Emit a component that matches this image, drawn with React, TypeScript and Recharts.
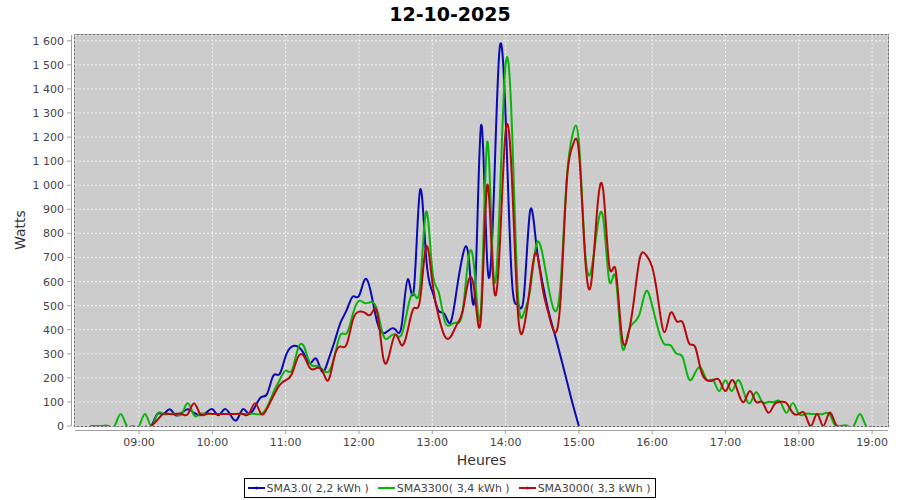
import { LineChart, Line, XAxis, YAxis, CartesianGrid } from 'recharts';

// samples every 5 minutes, start given in minutes after midnight
const STEP = 5;

const greenStart = 500; // 08:20
const greenWatts = [
  0, 0, 0, 0, 0, 50, 0, 0, 0, 50, 0, 50, 50, 50, 50, 50, 95, 45, 50, 50,
  50, 50, 50, 50, 50, 50, 50, 50, 50, 80, 140, 190, 230, 230, 320, 330, 260, 250, 235, 225,
  290, 380, 385, 465, 520, 510, 515, 480, 375, 370, 380, 380, 490, 550, 580, 890, 650, 560, 440, 420,
  430, 480, 710, 620, 500, 1180, 640, 900, 1500, 1270, 560, 470, 560, 750, 720, 580, 480, 590, 1020, 1215,
  1180, 730, 645, 820, 860, 600, 620, 340, 380, 430, 470, 560, 500, 400, 340, 335, 300, 285, 195, 220,
  240, 190, 190, 145, 190, 145, 190, 140, 95, 140, 100, 100, 100, 100, 55, 95, 50, 50, 50, 50,
  50, 50, 0, 0, 0, 0, 50, 0, 0,
];

const redStart = 550; // 09:10
const redWatts = [
  0, 25, 50, 50, 50, 50, 50, 95, 50, 50, 50, 50, 50, 50, 50, 50, 50, 95, 50, 75,
  125, 170, 190, 215, 285, 290, 240, 240, 230, 190, 290, 330, 340, 440, 475, 470, 465, 470, 280, 300,
  380, 335, 400, 490, 525, 745, 600, 460, 375, 370, 420, 480, 610, 540, 460, 1000, 600, 720, 1220, 1050,
  480, 410, 580, 720, 580, 470, 390, 525, 1010, 1165, 1140, 710, 590, 900, 975, 660, 650, 380, 370, 520,
  700, 710, 660, 520, 390, 470, 435, 430, 345, 330, 230, 190, 190, 190, 145, 190, 145, 100, 145, 100,
  100, 55, 90, 100, 95, 55, 50, 50, 0, 50, 0, 55, 10, 0,
];

const blueStart = 545; // 09:05
const blueWatts = [
  0, 0, 50, 50, 70, 45, 55, 70, 55, 45, 55, 70, 45, 70, 45, 25, 70, 50, 80, 120,
  135, 210, 215, 290, 330, 330, 300, 260, 280, 225, 275, 350, 430, 482, 538, 540, 610, 550, 430, 385,
  400, 400, 420, 610, 570, 980, 700, 560, 480, 465, 430, 565, 710, 690, 560, 1250, 680, 900, 1560, 1290,
  620, 505, 540, 890, 760, 600, 480, 385, 290, 190, 90, 0,
];

const hourTicks = [540, 600, 660, 720, 780, 840, 900, 960, 1020, 1080, 1140];
const wattTicks = [0, 100, 200, 300, 400, 500, 600, 700, 800, 900, 1000, 1100, 1200, 1300, 1400, 1500, 1600];

const series = [
  { key: 'blue', name: 'SMA3.0( 2,2 kWh )', color: '#0a0ab4', start: blueStart, values: blueWatts },
  { key: 'green', name: 'SMA3300( 3,4 kWh )', color: '#0ab40a', start: greenStart, values: greenWatts },
  { key: 'red', name: 'SMA3000( 3,3 kWh )', color: '#b40a0a', start: redStart, values: redWatts },
];

const rows: Record<number, any> = {};
series.forEach((s) => {
  s.values.forEach((v, i) => {
    const t = s.start + i * STEP;
    if (!rows[t]) rows[t] = { t };
    rows[t][s.key] = v;
  });
});
const data = Object.values(rows).sort((a: any, b: any) => a.t - b.t);

const fmtTime = (m: number) =>
  String(Math.floor(m / 60)).padStart(2, '0') + ':' + String(m % 60).padStart(2, '0');

const fmtWatts = (n: number) =>
  n >= 1000 ? `${Math.floor(n / 1000)} ${String(n % 1000).padStart(3, '0')}` : String(n);

const FONT = '"DejaVu Sans", sans-serif';

function YTick({ x, y, payload }: any) {
  return (
    <g>
      <line x1={x - 8} x2={x - 4} y1={y} y2={y} stroke="#a0a0a0" />
      <text x={x - 11} y={y} dy={4} textAnchor="end" fontSize={11} fill="#444">
        {fmtWatts(payload.value)}
      </text>
    </g>
  );
}

function XTick({ x, y, payload }: any) {
  return (
    <g>
      <line x1={x} x2={x} y1={y + 4} y2={y + 8} stroke="#a0a0a0" />
      <text x={x} y={y + 20} textAnchor="middle" fontSize={11} fill="#444">
        {fmtTime(payload.value)}
      </text>
    </g>
  );
}

export default function App() {
  return (
    <div style={{ position: 'absolute', left: 0, top: 0, width: 900, height: 500, background: '#fff', fontFamily: FONT }}>
      <div style={{ position: 'absolute', left: 0, top: 3, width: 900, lineHeight: '22px', textAlign: 'center', fontSize: 19, fontWeight: 'bold', color: '#000' }}>
        12-10-2025
      </div>
      {/* plot frame and detached axis lines */}
      <div style={{ position: 'absolute', left: 74, top: 34, width: 815, height: 393, border: '1px solid #707070', boxSizing: 'border-box' }} />
      <div style={{ position: 'absolute', left: 71, top: 35, width: 1, height: 391, background: '#a0a0a0' }} />
      <div style={{ position: 'absolute', left: 75, top: 430, width: 813, height: 1, background: '#a0a0a0' }} />

      <LineChart width={900} height={500} data={data} margin={{ top: 35, right: 12, bottom: 0, left: 0 }}>
        <CartesianGrid fill="#cccccc" stroke="#f2f2f2" strokeDasharray="2 2" />
        <XAxis
          dataKey="t"
          type="number"
          domain={[487.6, 1153]}
          ticks={hourTicks}
          allowDataOverflow
          height={74}
          axisLine={false}
          tickLine={false}
          tickSize={0}
          tickMargin={0}
          tick={XTick}
          interval={0}
        />
        <YAxis
          type="number"
          domain={[0, 1624]}
          ticks={wattTicks}
          allowDataOverflow
          width={75}
          axisLine={false}
          tickLine={false}
          tickSize={0}
          tickMargin={0}
          tick={YTick}
          interval={0}
        />
        {series.map((s) => (
          <Line
            key={s.key}
            dataKey={s.key}
            name={s.name}
            type="natural"
            stroke={s.color}
            strokeWidth={2}
            dot={false}
            isAnimationActive={false}
          />
        ))}
      </LineChart>

      <div style={{ position: 'absolute', left: 0, top: 451, width: 900, lineHeight: '18px', textAlign: 'center', fontSize: 14, color: '#333', paddingLeft: 63, boxSizing: 'border-box' }}>
        Heures
      </div>
      <div style={{ position: 'absolute', left: 20, top: 230, transform: 'translate(-50%, -50%) rotate(-90deg)', fontSize: 14, color: '#333', whiteSpace: 'nowrap' }}>
        Watts
      </div>

      <div style={{ position: 'absolute', left: 0, top: 478, width: 900, display: 'flex', justifyContent: 'center' }}>
        <div style={{ display: 'flex', alignItems: 'center', height: 20, boxSizing: 'border-box', border: '1px solid #000', background: '#fff', padding: '0 5px 0 3px', fontSize: 11, color: '#444' }}>
          {series.map((s, i) => (
            <div key={s.key} style={{ display: 'flex', alignItems: 'center', marginRight: i < series.length - 1 ? 9 : 0 }}>
              <svg width={17} height={6} style={{ marginRight: 2 }}>
                <line x1={0} x2={17} y1={3} y2={3} stroke={s.color} strokeWidth={2} />
                <circle cx={8.5} cy={3} r={1.5} fill={s.color} />
              </svg>
              <span>{s.name}</span>
            </div>
          ))}
        </div>
      </div>
    </div>
  );
}
